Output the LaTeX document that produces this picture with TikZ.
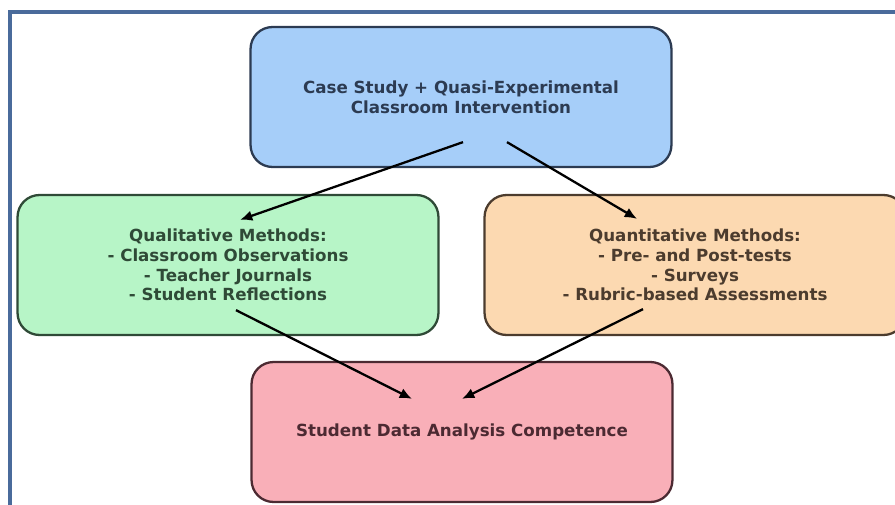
\documentclass[tikz,border=0pt]{standalone}
\usepackage{fontspec}
\setmainfont{DejaVu Sans}
\usetikzlibrary{arrows.meta, positioning}
\definecolor{frameblue}{HTML}{4A6B9B}
\definecolor{casefill}{HTML}{A6CEF9}
\definecolor{caseink}{HTML}{2C3B52}
\definecolor{qualfill}{HTML}{B7F5C7}
\definecolor{qualink}{HTML}{2F4A37}
\definecolor{quantfill}{HTML}{FCD9B1}
\definecolor{quantink}{HTML}{4C3C2E}
\definecolor{outfill}{HTML}{F9AFB8}
\definecolor{outink}{HTML}{4C2A32}
\tikzstyle{flow}=[x=0.02cm, y=-0.02cm, >={Latex[length=7pt,width=6pt]}]
\tikzstyle{block}=[draw, line width=1.3pt, rounded corners=12.5pt, minimum width=8.42cm, minimum height=2.8cm, align=center, font=\fontsize{9.5}{11.2}\selectfont\bfseries]
\tikzstyle{link}=[->, line width=1.3pt, draw=black]

\begin{document}
\begin{tikzpicture}[flow]
  \useasboundingbox (0,0) rectangle (895,504);
  \draw[frameblue, line width=2.2pt] (10,12) rectangle (910,520);
  \node[block, fill=casefill, draw=caseink, text=caseink] (design) at (461,97) {Case Study + Quasi-Experimental\\Classroom Intervention};
  \node[block, fill=qualfill, draw=qualink, text=qualink] (qual) at (228,265) {Qualitative Methods:\\- Classroom Observations\\- Teacher Journals\\- Student Reflections};
  \node[block, fill=quantfill, draw=quantink, text=quantink] (quant) at (695,265) {Quantitative Methods:\\- Pre- and Post-tests\\- Surveys\\- Rubric-based Assessments};
  \node[block, fill=outfill, draw=outink, text=outink] (outcome) at (462,432) {Student Data Analysis Competence};
  \draw[link] ([xshift=0.04cm, yshift=0.52cm]design.south) -- ([xshift=0.24cm, yshift=-0.52cm]qual.north);
  \draw[link] ([xshift=0.92cm, yshift=0.52cm]design.south) -- ([xshift=-1.16cm, yshift=-0.5cm]quant.north);
  \draw[link] ([xshift=0.16cm, yshift=0.52cm]qual.south) -- ([xshift=-1.0cm, yshift=-0.76cm]outcome.north);
  \draw[link] ([xshift=-1.04cm, yshift=0.54cm]quant.south) -- ([yshift=-0.76cm]outcome.north);
\end{tikzpicture}
\end{document}
